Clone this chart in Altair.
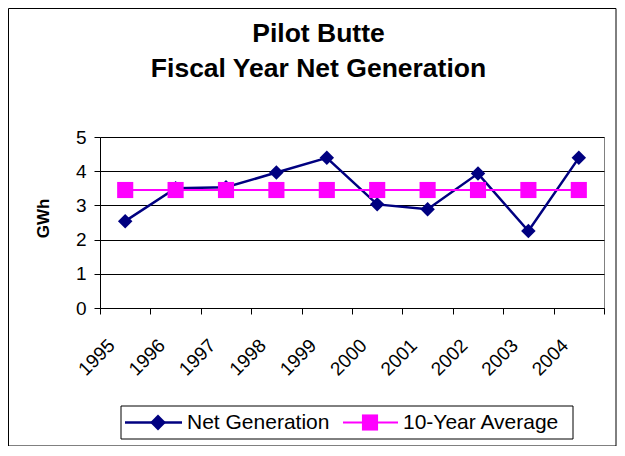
import altair as alt
import pandas as pd

years = ["1995", "1996", "1997", "1998", "1999", "2000", "2001", "2002", "2003", "2004"]
net_generation = [2.54, 3.50, 3.53, 3.96, 4.39, 3.03, 2.89, 3.93, 2.25, 4.39]
ten_year_avg = [3.45, 3.45, 3.45, 3.45, 3.45, 3.45, 3.45, 3.45, 3.45, 3.45]
title_lines = ["Pilot Butte", "Fiscal Year Net Generation"]
y_title = "GWh"
legend_labels = ["Net Generation", "10-Year Average"]

NAVY = "#000080"
MAGENTA = "#FF00FF"
FONT = "Liberation Sans"
W, H = 504, 171

df = pd.DataFrame({"Year": years, "Net": net_generation, "Avg": ten_year_avg})

xaxis = alt.Axis(title=None, labelAngle=-45, labelAlign="right", labelBaseline="middle",
                 labelPadding=28, labelOffset=-14, tickBand="extent", grid=False, labelOverlap=False)
yaxis = alt.Axis(title=None, values=[0, 1, 2, 3, 4, 5], labelOverlap=False,
                 labelPadding=8, grid=True)
xscale = alt.Scale(type="band", paddingInner=0, paddingOuter=0)
yscale = alt.Scale(domain=[0, 5], nice=False)


def X():
    return alt.X("Year:N", sort=years, bandPosition=0.5, scale=xscale, axis=xaxis)


base = alt.Chart(df)
net_line = base.mark_line(color=NAVY, strokeWidth=2.5).encode(
    x=X(), y=alt.Y("Net:Q", scale=yscale, axis=yaxis))
net_pts = base.mark_point(shape="diamond", filled=True, color=NAVY, size=210, opacity=1).encode(
    x=X(), y=alt.Y("Net:Q", scale=yscale, axis=yaxis))
avg_line = base.mark_line(color=MAGENTA, strokeWidth=2).encode(
    x=X(), y=alt.Y("Avg:Q", scale=yscale, axis=yaxis))
avg_pts = base.mark_point(shape="square", filled=True, color=MAGENTA, size=260, opacity=1).encode(
    x=X(), y=alt.Y("Avg:Q", scale=yscale, axis=yaxis))

one = alt.Chart(pd.DataFrame({"k": [0]}))
# title
t1 = one.mark_text(align="center", baseline="alphabetic", fontSize=26.5, font=FONT, fontWeight="bold",
                   color="black").encode(x=alt.value(218.5), y=alt.value(-95.5), text=alt.value(title_lines[0]))
t2 = one.mark_text(align="center", baseline="alphabetic", fontSize=26.5, font=FONT, fontWeight="bold",
                   color="black").encode(x=alt.value(218.5), y=alt.value(-60.5), text=alt.value(title_lines[1]))
# y axis title
ytl = one.mark_text(align="center", baseline="middle", fontSize=17, font=FONT, fontWeight="bold",
                    color="black", angle=270).encode(x=alt.value(-56), y=alt.value(81.5), text=alt.value(y_title))
# legend box
leg_box = one.mark_rect(filled=False, stroke="black", strokeWidth=1).encode(
    x=alt.value(21), x2=alt.value(473), y=alt.value(269), y2=alt.value(302))
leg_line1 = one.mark_rule(color=NAVY, strokeWidth=2.5).encode(
    x=alt.value(25), x2=alt.value(82), y=alt.value(285.5))
leg_pt1 = one.mark_point(shape="diamond", filled=True, color=NAVY, size=250, opacity=1).encode(
    x=alt.value(58), y=alt.value(285.5))
leg_txt1 = one.mark_text(align="left", baseline="middle", fontSize=21, font=FONT, color="black").encode(
    x=alt.value(87), y=alt.value(286), text=alt.value(legend_labels[0]))
leg_line2 = one.mark_rule(color=MAGENTA, strokeWidth=2).encode(
    x=alt.value(243), x2=alt.value(298), y=alt.value(285.5))
leg_pt2 = one.mark_point(shape="square", filled=True, color=MAGENTA, size=260, opacity=1).encode(
    x=alt.value(270), y=alt.value(285.5))
leg_txt2 = one.mark_text(align="left", baseline="middle", fontSize=21, font=FONT, color="black").encode(
    x=alt.value(303), y=alt.value(286), text=alt.value(legend_labels[1]))
# outer chart border
outer = one.mark_rect(filled=False, stroke="black", strokeWidth=1).encode(
    x=alt.value(-91.5), x2=alt.value(516), y=alt.value(-128.5), y2=alt.value(309))

chart = alt.layer(
    net_line, net_pts, avg_line, avg_pts, t1, t2, ytl,
    leg_box, leg_line1, leg_pt1, leg_txt1, leg_line2, leg_pt2, leg_txt2, outer
).properties(
    width=W, height=H,
    autosize=alt.AutoSizeParams(type="none"),
    padding={"left": 92, "top": 129, "right": 13, "bottom": 138},
    background="white",
).configure_view(
    stroke="#808080", strokeWidth=1
).configure_axis(
    labelFont=FONT, labelFontSize=19, labelColor="black",
    tickSize=6, tickColor="black", domainColor="black", domainWidth=1,
    gridColor="black", gridWidth=1, gridOpacity=1,
)

chart.save("out.html", embed_options={"renderer": "svg", "actions": False})
